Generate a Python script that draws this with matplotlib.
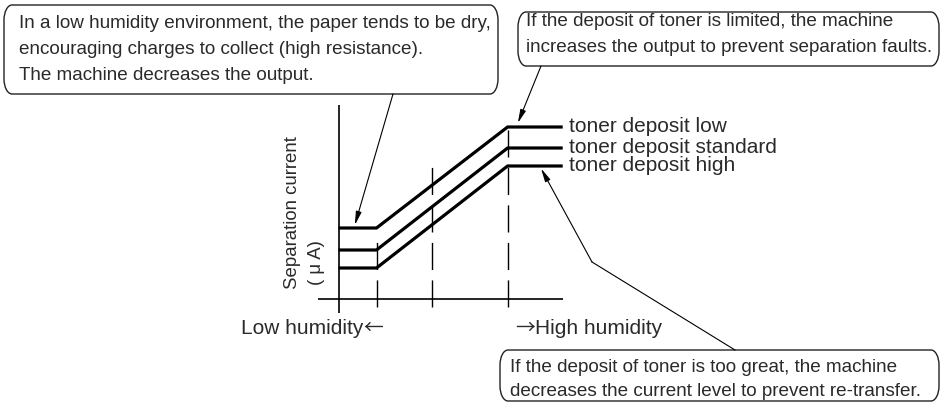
import matplotlib
matplotlib.use("Agg")
import matplotlib.pyplot as plt
from matplotlib.path import Path
from matplotlib.patches import PathPatch

plt.rcParams['font.family'] = ['Liberation Sans', 'DejaVu Sans']
plt.rcParams['lines.scale_dashes'] = False

# ---- data (humidity in relative steps, separation current in relative units) ----
humidity = [0.0, 1.0, 4.45, 5.9]
current_low = [7.1, 7.1, 17.2, 17.2]
current_standard = [4.9, 4.9, 15.1, 15.1]
current_high = [3.1, 3.1, 13.3, 13.3]
series_labels = ["toner deposit low", "toner deposit standard", "toner deposit high"]

guide_x = [1.0, 2.46, 4.45]
guide_top = [6.1, 13.9, 17.4]
guide_bottom = -0.8

x_label_low = "Low humidity"
x_label_high = "High humidity"
y_label = ["Separation current", "( \u03bc A)"]

note_low = ["In a low humidity environment, the paper tends to be dry,",
            "encouraging charges to collect (high resistance).",
            "The machine decreases the output."]
note_limited = ["If the deposit of toner is limited, the machine",
                "increases the output to prevent separation faults."]
note_great = ["If the deposit of toner is too great, the machine",
              "decreases the current level to prevent re-transfer."]

TEXT = "#2a2a2a"
FS_NOTE = 13.6
FS_LABEL = 15.0
FS_Y = 13.4
CJK = ['Noto Sans CJK JP', 'DejaVu Sans']

W, H = 941, 403
fig = plt.figure(figsize=(W / 100, H / 100), dpi=100)
fig.patch.set_facecolor("white")

# overlay in pixel space for the callouts
ov = fig.add_axes([0, 0, 1, 1])
ov.set_xlim(0, W)
ov.set_ylim(H, 0)
ov.axis("off")

# plot area
L, R, T, B = 318, 563, 105, 313
ax = fig.add_axes([L / W, (H - B) / H, (R - L) / W, (B - T) / H])
ax.set_xlim((L - 338.5) / 38, (R - 338.5) / 38)
ax.set_ylim((299 - B) / 10, (299 - T) / 10)
ax.axis("off")
ax.patch.set_alpha(0)

# axes lines
ax.plot([0, 0], list(ax.get_ylim()), color="black", lw=1.2, solid_capstyle="butt")
ax.plot(list(ax.get_xlim()), [0, 0], color="black", lw=1.2, solid_capstyle="butt")

# dashed guides
for gx, gt in zip(guide_x, guide_top):
    ax.plot([gx, gx], [guide_bottom, gt], color="black", lw=1.0,
            dashes=(19.5, 7.5), dash_capstyle="butt")

# series
for vals, lab in zip([current_low, current_standard, current_high], series_labels):
    ax.plot(humidity, vals, color="black", lw=2.3, solid_joinstyle="miter",
            solid_capstyle="butt")
    ax.annotate(lab, xy=(humidity[-1], vals[-1]), xytext=(4.5, 0.5),
                textcoords="offset points", va="center", ha="left",
                fontsize=FS_LABEL, color=TEXT, annotation_clip=False)

# axis texts
ov.text(293, 213, y_label[0], rotation=90, ha="center", va="center", fontsize=FS_Y, color=TEXT)
ov.text(317, 263, y_label[1], rotation=90, ha="center", va="center", fontsize=FS_Y, color=TEXT)
t_low = ov.text(241, 328, x_label_low, ha="left", va="center", fontsize=FS_LABEL, color=TEXT)
ov.annotate("\u2190", xy=(1, 0.5), xycoords=t_low, xytext=(0, 0),
            textcoords="offset points", ha="left", va="center",
            fontsize=FS_LABEL * 0.95, color=TEXT, family=CJK)
t_arrow = ov.text(515, 328, "\u2192", ha="left", va="center",
                  fontsize=FS_LABEL * 0.95, color=TEXT, family=CJK)
ov.annotate(x_label_high, xy=(1, 0.5), xycoords=t_arrow, xytext=(0, 0),
            textcoords="offset points", ha="left", va="center",
            fontsize=FS_LABEL, color=TEXT)


def callout(x0, y0, x1, y1, rx=8, ry=15):
    k = 0.5523
    verts = [
        (x0 + rx, y0), (x1 - rx, y0),
        (x1 - rx + k * rx, y0), (x1, y0 + ry - k * ry), (x1, y0 + ry),
        (x1, y1 - ry),
        (x1, y1 - ry + k * ry), (x1 - rx + k * rx, y1), (x1 - rx, y1),
        (x0 + rx, y1),
        (x0 + rx - k * rx, y1), (x0, y1 - ry + k * ry), (x0, y1 - ry),
        (x0, y0 + ry),
        (x0, y0 + ry - k * ry), (x0 + rx - k * rx, y0), (x0 + rx, y0),
        (x0 + rx, y0),
    ]
    codes = [Path.MOVETO, Path.LINETO,
             Path.CURVE4, Path.CURVE4, Path.CURVE4,
             Path.LINETO,
             Path.CURVE4, Path.CURVE4, Path.CURVE4,
             Path.LINETO,
             Path.CURVE4, Path.CURVE4, Path.CURVE4,
             Path.LINETO,
             Path.CURVE4, Path.CURVE4, Path.CURVE4,
             Path.CLOSEPOLY]
    ov.add_patch(PathPatch(Path(verts, codes), facecolor="white",
                           edgecolor="#222222", lw=1.0))


def note(lines, x, baselines):
    for ln, yb in zip(lines, baselines):
        ov.text(x, yb, ln, ha="left", va="baseline", fontsize=FS_NOTE, color=TEXT)


callout(4, 5, 498, 94)
note(note_low, 19, [28, 54, 80])
callout(518, 12, 939, 66)
note(note_limited, 526, [26, 52])
callout(500, 350, 939, 401)
note(note_great, 510, [372, 396])

arrow = dict(arrowstyle="-|>,head_length=0.8,head_width=0.17", color="black",
             lw=0.8, shrinkA=0, shrinkB=0, mutation_scale=10)

ax.annotate("", xy=(0.43, 7.4), xycoords="data",
            xytext=(393, 94), textcoords=ov.transData, arrowprops=arrow,
            annotation_clip=False)
ax.annotate("", xy=(4.72, 17.6), xycoords="data",
            xytext=(541, 66), textcoords=ov.transData, arrowprops=arrow,
            annotation_clip=False)
ov.plot([735, 592], [350, 262], color="black", lw=0.8)
ax.annotate("", xy=(5.33, 13.05), xycoords="data",
            xytext=(592, 262), textcoords=ov.transData, arrowprops=arrow,
            annotation_clip=False)

fig.savefig("out.png", dpi=100, facecolor="white")
